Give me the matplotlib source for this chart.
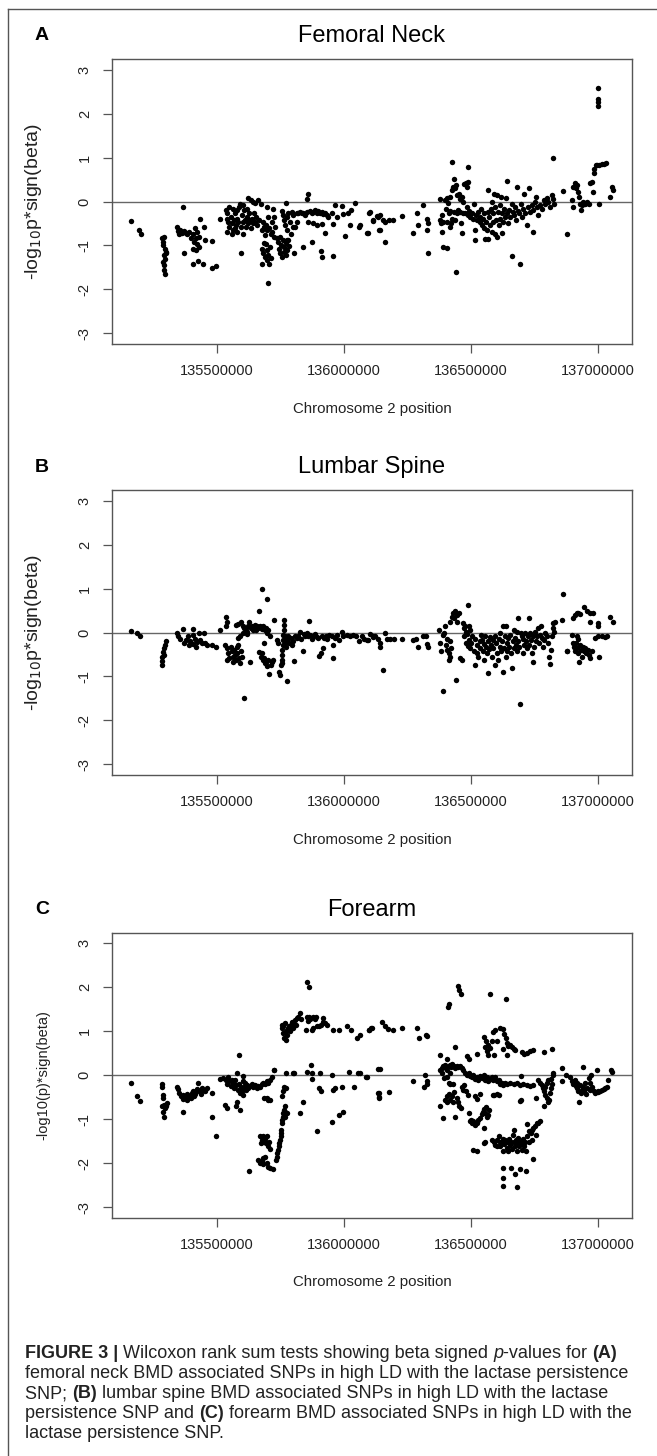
import numpy as np
import matplotlib
matplotlib.use("Agg")
import matplotlib.pyplot as plt
from matplotlib.font_manager import FontProperties
from matplotlib.lines import Line2D

plt.rcParams['font.family'] = ['Liberation Sans', 'DejaVu Sans']
plt.rcParams['axes.unicode_minus'] = False

# positions in Mb on chromosome 2, value = -log10(p)*sign(beta)
femoral_neck = [
    (135.163, -0.44), (135.193, -0.65), (135.202, -0.73),
    (135.286, -0.84), (135.290, -0.92), (135.294, -0.80), (135.289, -0.99), (135.297, -1.07),
    (135.301, -1.14), (135.293, -1.22), (135.298, -1.30), (135.289, -1.37), (135.291, -1.45),
    (135.294, -1.55), (135.295, -1.64), (135.301, -1.18),
    (135.366, -0.12), (135.343, -0.58), (135.347, -0.67), (135.356, -0.64), (135.362, -0.71),
    (135.371, -0.67), (135.379, -0.71), (135.384, -0.74), (135.392, -0.69), (135.351, -0.74),
    (135.373, -1.16), (135.400, -0.84), (135.408, -0.74), (135.412, -0.92), (135.419, -0.84),
    (135.424, -0.97), (135.429, -0.80), (135.415, -0.61), (135.424, -0.69), (135.405, -1.07),
    (135.419, -1.11), (135.430, -1.03), (135.434, -0.39), (135.450, -0.58), (135.454, -0.88),
    (135.480, -0.89), (135.406, -1.42), (135.428, -1.35), (135.448, -1.42), (135.480, -1.52),
    (135.497, -1.46), (135.513, -0.40),
    (135.537, -0.20), (135.542, -0.27), (135.539, -0.39), (135.546, -0.46), (135.539, -0.69),
    (135.550, -0.58), (135.555, -0.35), (135.559, -0.50), (135.563, -0.65), (135.568, -0.42),
    (135.572, -0.27), (135.576, -0.54), (135.579, -0.69), (135.581, -0.39), (135.585, -0.46),
    (135.589, -0.12), (135.592, -0.05), (135.594, -0.58), (135.598, -0.31), (135.602, -0.46),
    (135.605, -0.73), (135.608, -0.20), (135.611, -0.42), (135.615, -0.58), (135.618, -0.35),
    (135.622, 0.07), (135.624, -0.50), (135.628, -0.27), (135.631, -0.42), (135.634, -0.61),
    (135.638, -0.39), (135.642, -0.01), (135.644, -0.50), (135.648, -0.27), (135.651, -0.46),
    (135.655, -0.35), (135.660, -0.54), (135.664, 0.03), (135.668, -0.42), (135.673, -0.05),
    (135.677, -0.65), (135.550, -0.12), (135.566, -0.16), (135.579, -0.20), (135.559, -0.73),
    (135.572, -0.61), (135.618, -0.16), (135.605, -0.08), (135.634, 0.03), (135.651, -0.03),
    (135.594, -1.16),
    (135.681, -0.46), (135.688, -0.58), (135.694, -0.54), (135.699, -0.65), (135.707, -0.61),
    (135.712, -0.73), (135.719, -0.69), (135.726, -0.80), (135.730, -0.58), (135.736, -0.84),
    (135.743, -0.92), (135.749, -0.80), (135.753, -0.99), (135.760, -0.88), (135.765, -1.03),
    (135.771, -0.95), (135.778, -0.88), (135.697, -0.12), (135.703, -0.35), (135.723, -0.16),
    (135.727, -0.35), (135.716, -0.46), (135.690, -0.77),
    (135.677, -1.07), (135.681, -1.18), (135.686, -0.95), (135.690, -1.26), (135.697, -1.11),
    (135.699, -1.33), (135.703, -1.22), (135.707, -1.41), (135.710, -1.03), (135.712, -1.29),
    (135.679, -1.41), (135.694, -0.97), (135.700, -1.86),
    (135.744, -1.07), (135.749, -1.18), (135.757, -1.26), (135.765, -1.14), (135.773, -1.22),
    (135.778, -1.11), (135.804, -1.18), (135.786, -1.02),
    (135.756, -0.21), (135.762, -0.31), (135.765, -0.42), (135.769, -0.54), (135.773, -0.03),
    (135.775, -0.35), (135.782, -0.27), (135.788, -0.46), (135.795, -0.23), (135.802, -0.31),
    (135.808, -0.58), (135.815, -0.27), (135.821, -0.26), (135.828, -0.23), (135.834, -0.27),
    (135.841, -0.26), (135.847, -0.31), (135.854, -0.23), (135.861, -0.46), (135.867, -0.21),
    (135.874, -0.27), (135.880, -0.23), (135.887, -0.20), (135.893, -0.26), (135.900, -0.21),
    (135.907, -0.27), (135.913, -0.23), (135.920, -0.29), (135.926, -0.26), (135.933, -0.31),
    (135.939, -0.35), (135.778, -0.65), (135.791, -0.73), (135.802, -0.58), (135.815, -0.46),
    (135.782, -0.88), (135.861, 0.16), (135.857, 0.05), (135.874, -0.92), (135.838, -1.03),
    (135.880, -0.48), (135.896, -0.54), (135.913, -0.52), (135.926, -0.71), (135.909, -1.12),
    (135.913, -1.27), (135.956, -1.24), (135.956, -0.52),
    (135.966, -0.07), (135.955, -0.27), (135.972, -0.35), (135.992, -0.11), (135.998, -0.29),
    (136.018, -0.27), (136.027, -0.20), (136.045, -0.03), (136.005, -0.79), (136.025, -0.54),
    (136.058, -0.58), (136.064, -0.54), (136.093, -0.71), (136.101, -0.26), (136.116, -0.42),
    (136.136, -0.35), (136.139, -0.65),
    (136.094, -0.71), (136.104, -0.23), (136.113, -0.44), (136.130, -0.33), (136.141, -0.31),
    (136.141, -0.65), (136.154, -0.42), (136.163, -0.46), (136.179, -0.42), (136.192, -0.42),
    (136.164, -0.92), (136.230, -0.33), (136.273, -0.71), (136.287, -0.27), (136.292, -0.54),
    (136.312, -0.08), (136.327, -0.39), (136.330, -0.50), (136.327, -0.65), (136.330, -1.18),
    (136.379, 0.05), (136.383, -0.50), (136.386, -0.69), (136.392, -1.03), (136.408, -1.05),
    (136.442, -1.60),
    (136.424, 0.90), (136.487, 0.79), (136.434, 0.52), (136.429, 0.33), (136.436, 0.30),
    (136.442, 0.37), (136.425, 0.26), (136.418, 0.11), (136.408, 0.07), (136.398, 0.03),
    (136.411, -0.03), (136.445, 0.14), (136.455, 0.18), (136.464, 0.11), (136.473, 0.39),
    (136.481, 0.42), (136.487, 0.45), (136.483, 0.33), (136.458, 0.05), (136.471, -0.01),
    (136.403, -0.16), (136.412, -0.27), (136.418, -0.21), (136.425, -0.39), (136.432, -0.23),
    (136.438, -0.42), (136.408, -0.46), (136.416, -0.58), (136.421, -0.48), (136.445, -0.27),
    (136.451, -0.20), (136.458, -0.23), (136.461, -0.50), (136.464, -0.71), (136.471, -0.26),
    (136.477, -0.27), (136.484, -0.12), (136.487, -0.31), (136.492, -0.21), (136.497, -0.35),
    (136.504, -0.27), (136.510, -0.39), (136.514, -0.05), (136.517, -0.65), (136.517, -0.88),
    (136.521, -0.31), (136.526, -0.42), (136.530, -0.23), (136.534, -0.35), (136.537, -0.46),
    (136.541, -0.16), (136.543, -0.54), (136.547, -0.39), (136.550, -0.61), (136.552, -0.27),
    (136.556, -0.86), (136.560, -0.46), (136.563, -0.65), (136.566, 0.26), (136.568, -0.86),
    (136.569, -0.23), (136.573, -0.35), (136.576, -0.54), (136.578, -0.16), (136.582, -0.69),
    (136.585, -0.01), (136.586, -0.46), (136.589, -0.27), (136.592, 0.18), (136.593, -0.73),
    (136.595, -0.12), (136.598, -0.42), (136.602, 0.14), (136.602, -0.80), (136.605, -0.23),
    (136.609, -0.54), (136.613, -0.08), (136.615, -0.39), (136.618, 0.11), (136.622, -0.27),
    (136.624, -0.71), (136.628, -0.46), (136.631, -0.16), (136.635, -0.35), (136.639, 0.07),
    (136.641, -0.27), (136.644, 0.46), (136.648, -0.50), (136.652, -0.20), (136.655, -0.35),
    (136.661, -0.05), (136.661, -1.24), (136.665, -0.23), (136.670, -0.31), (136.674, -0.12),
    (136.677, -0.42), (136.683, 0.33), (136.687, -0.21), (136.691, -0.27), (136.694, -1.42),
    (136.696, -0.05), (136.700, -0.35), (136.707, -0.16), (136.709, 0.17), (136.714, -0.26),
    (136.720, -0.54), (136.724, -0.12), (136.730, 0.31), (136.733, -0.23), (136.740, -0.08),
    (136.745, -0.70), (136.746, -0.20), (136.753, -0.01), (136.757, 0.11), (136.759, -0.12),
    (136.766, -0.31), (136.772, -0.08), (136.779, -0.16), (136.786, 0.03), (136.792, -0.05),
    (136.799, 0.09), (136.805, -0.01), (136.812, -0.12), (136.818, 0.14), (136.822, 0.99),
    (136.825, 0.05), (136.827, -0.05), (136.861, 0.24), (136.877, -0.75),
    (136.379, -0.42), (136.386, -0.31), (136.392, -0.46),
    (136.897, 0.03), (136.901, -0.12), (136.903, 0.33), (136.910, 0.41), (136.914, 0.30),
    (136.919, 0.37), (136.923, 0.22), (136.927, 0.11), (136.930, -0.05), (136.932, -0.20),
    (136.937, -0.08), (136.943, -0.01), (136.950, -0.05), (136.956, -0.02), (136.963, -0.06),
    (136.969, 0.42), (136.978, 0.45), (136.980, 0.22), (136.983, 0.64), (136.985, 0.75),
    (136.992, 0.83), (136.998, 0.83), (137.006, 0.83), (137.015, 0.85), (137.024, 0.85),
    (137.032, 0.88), (137.006, -0.06), (137.048, 0.11), (137.055, 0.33), (137.058, 0.26),
    (137.002, 2.58), (137.002, 2.32), (137.002, 2.26), (137.002, 2.17),
]

lumbar_spine = [
    (135.163, 0.04), (135.188, 0.00), (135.198, -0.07),
    (135.301, -0.19), (135.298, -0.28), (135.294, -0.36), (135.290, -0.45), (135.286, -0.55),
    (135.284, -0.64), (135.285, -0.73), (135.293, -0.51),
    (135.343, 0.00), (135.349, -0.09), (135.356, -0.15), (135.366, 0.09), (135.372, -0.24),
    (135.379, -0.17), (135.389, -0.28), (135.395, -0.20), (135.406, 0.08), (135.408, -0.26),
    (135.415, -0.15), (135.419, -0.32), (135.424, -0.21), (135.432, 0.00), (135.434, -0.17),
    (135.441, -0.24), (135.450, -0.02), (135.454, -0.23), (135.461, -0.28), (135.480, -0.28),
    (135.497, -0.32), (135.406, -0.05), (135.386, -0.09),
    (135.513, 0.05), (135.537, 0.35), (135.539, 0.25), (135.535, 0.15),
    (135.533, -0.28), (135.539, -0.36), (135.546, -0.47), (135.550, -0.58), (135.555, -0.32),
    (135.559, -0.43), (135.563, -0.55), (135.568, -0.39), (135.572, -0.51), (135.576, -0.62),
    (135.579, -0.32), (135.581, -0.47), (135.585, -0.28), (135.589, -0.58), (135.592, -0.70),
    (135.596, -0.43), (135.598, -0.55), (135.542, -0.62), (135.566, -0.66), (135.583, -0.13),
    (135.608, -1.48), (135.631, -0.67),
    (135.576, 0.17), (135.585, 0.20), (135.594, 0.23), (135.602, 0.14), (135.608, 0.10),
    (135.615, 0.06), (135.621, 0.02), (135.624, 0.14), (135.628, 0.25), (135.634, 0.10),
    (135.638, 0.15), (135.642, 0.05), (135.647, 0.12), (135.651, 0.17), (135.655, 0.06),
    (135.660, 0.14), (135.664, 0.10), (135.670, 0.15), (135.677, 0.08), (135.684, 0.14),
    (135.690, 0.05), (135.694, 0.10), (135.699, -0.02), (135.703, 0.06), (135.710, -0.09),
    (135.605, -0.02), (135.618, -0.03), (135.592, -0.08),
    (135.668, 0.50), (135.677, 0.98), (135.699, 0.76),
    (135.668, -0.45), (135.673, -0.55), (135.677, -0.47), (135.681, -0.62), (135.686, -0.58),
    (135.690, -0.70), (135.694, -0.66), (135.699, -0.77), (135.703, -0.62), (135.707, -0.94),
    (135.712, -0.74), (135.716, -0.66), (135.723, -0.62), (135.688, -0.24), (135.727, 0.29),
    (135.746, -0.89), (135.749, -0.96), (135.753, -0.73), (135.756, -0.62), (135.757, -0.51),
    (135.758, -0.39), (135.760, -0.28), (135.761, -0.17), (135.762, -0.05), (135.764, 0.06),
    (135.764, 0.17), (135.765, 0.29), (135.767, -0.09), (135.770, -0.24), (135.773, -0.32),
    (135.775, -1.11), (135.756, -0.70),
    (135.736, -0.17), (135.743, -0.24), (135.775, -0.17), (135.782, -0.09), (135.786, -0.24),
    (135.791, -0.13), (135.795, -0.28), (135.802, -0.20), (135.808, -0.09), (135.805, -0.64),
    (135.815, -0.13), (135.821, -0.08), (135.828, 0.02), (135.830, -0.15), (135.838, -0.42),
    (135.843, -0.03), (135.847, -0.09), (135.854, 0.00), (135.861, -0.09), (135.865, 0.27),
    (135.867, -0.05), (135.874, -0.15), (135.880, -0.09), (135.887, -0.03), (135.893, -0.11),
    (135.900, -0.13), (135.904, -0.53), (135.909, -0.47), (135.913, -0.09), (135.917, -0.36),
    (135.922, -0.13), (135.930, -0.09), (135.935, -0.15), (135.943, -0.05), (135.952, -0.09),
    (135.956, -0.28), (135.956, -0.58), (135.966, -0.13), (135.972, -0.05), (135.982, -0.17),
    (135.992, 0.02), (135.998, -0.09), (136.011, -0.05), (136.025, -0.09), (136.038, -0.05),
    (136.048, -0.09), (136.059, -0.20), (136.070, -0.09), (136.090, -0.17), (136.103, -0.03),
    (136.116, -0.08), (136.136, -0.15),
    (136.078, -0.15), (136.094, -0.18), (136.115, -0.11), (136.124, -0.08), (136.141, -0.24),
    (136.141, -0.32), (136.154, -0.86), (136.163, 0.00), (136.170, -0.15), (136.183, -0.15),
    (136.196, -0.15), (136.230, -0.15), (136.272, -0.17), (136.283, -0.15), (136.292, -0.33),
    (136.312, -0.08), (136.322, -0.09), (136.327, -0.26), (136.333, -0.32), (136.376, 0.05),
    (136.379, -0.23), (136.383, -0.43), (136.390, -1.32), (136.442, -1.09),
    (136.390, -0.05), (136.396, 0.00), (136.400, 0.14), (136.403, -0.28), (136.408, -0.39),
    (136.412, -0.62), (136.416, -0.55), (136.418, 0.25), (136.421, -0.36), (136.425, 0.36),
    (136.429, 0.44), (136.434, 0.33), (136.438, 0.48), (136.445, 0.40), (136.447, 0.25),
    (136.455, 0.44), (136.458, -0.58), (136.464, -0.62), (136.471, 0.21), (136.473, 0.10),
    (136.477, 0.15), (136.481, 0.02), (136.484, -0.03), (136.487, 0.63), (136.491, 0.14),
    (136.495, 0.06), (136.412, -0.47), (136.405, -0.15), (136.418, -0.20),
    (136.473, -0.09), (136.481, -0.23), (136.487, -0.30), (136.492, -0.17), (136.497, -0.36),
    (136.502, -0.24), (136.505, -0.09), (136.512, -0.41), (136.517, -0.15), (136.517, -0.73),
    (136.524, -0.28), (136.526, -0.47), (136.530, -0.55), (136.534, -0.20), (136.537, -0.36),
    (136.539, -0.05), (136.543, -0.17), (136.547, -0.41), (136.550, -0.26), (136.552, -0.62),
    (136.556, -0.09), (136.560, -0.32), (136.563, -0.47), (136.566, -0.91), (136.569, -0.20),
    (136.573, -0.38), (136.576, -0.11), (136.578, -0.28), (136.582, -0.55), (136.586, -0.17),
    (136.589, -0.36), (136.593, -0.73), (136.595, -0.09), (136.599, -0.24), (136.602, -0.47),
    (136.605, -0.62), (136.609, -0.15), (136.613, -0.32), (136.615, -0.02), (136.618, -0.43),
    (136.622, -0.20), (136.626, 0.14), (136.628, -0.89), (136.631, -0.36), (136.635, -0.09),
    (136.637, 0.14), (136.639, -0.55), (136.641, -0.24), (136.644, -0.41), (136.648, -0.13),
    (136.652, -0.32), (136.655, -0.05), (136.657, -0.47), (136.661, -0.81), (136.665, -0.20),
    (136.668, 0.06), (136.670, -0.36), (136.674, -0.13), (136.677, -0.28), (136.681, 0.02),
    (136.683, -0.43), (136.687, 0.33), (136.687, -0.20), (136.691, -0.32), (136.694, -1.62),
    (136.696, -0.02), (136.700, -0.09), (136.704, -0.47), (136.707, -0.15), (136.709, -0.28),
    (136.714, -0.02), (136.718, -0.20), (136.720, -0.36), (136.724, -0.09), (136.727, -0.28),
    (136.730, 0.33), (136.733, -0.02), (136.735, -0.17), (136.740, -0.47), (136.745, -0.68),
    (136.746, -0.09), (136.749, -0.32), (136.753, 0.02), (136.757, -0.20), (136.759, -0.09),
    (136.766, 0.10), (136.770, -0.24), (136.772, -0.05), (136.776, 0.14), (136.779, -0.13),
    (136.783, -0.32), (136.786, -0.17), (136.792, -0.02), (136.799, -0.09), (136.805, -0.24),
    (136.809, -0.55), (136.812, -0.71), (136.815, -0.39), (136.818, -0.09), (136.822, 0.10),
    (136.825, 0.21), (136.827, 0.02), (136.831, 0.25),
    (136.858, 0.29), (136.861, 0.87), (136.877, -0.43), (136.897, -0.05), (136.903, 0.33),
    (136.910, 0.40), (136.917, 0.44), (136.923, 0.45), (136.930, 0.42), (136.945, 0.58),
    (136.956, 0.48), (136.967, 0.45), (136.969, 0.25), (136.980, 0.44), (136.999, 0.21),
    (137.002, 0.14), (137.048, 0.36), (137.058, 0.25), (136.990, -0.13), (137.002, -0.09),
    (137.015, -0.09), (137.028, -0.11), (137.037, -0.09),
    (136.901, -0.23), (136.906, -0.32), (136.910, -0.43), (136.914, -0.24), (136.919, -0.36),
    (136.923, -0.47), (136.927, -0.66), (136.930, -0.28), (136.932, -0.39), (136.937, -0.55),
    (136.941, -0.32), (136.946, -0.43), (136.950, -0.36), (136.954, -0.47), (136.959, -0.39),
    (136.963, -0.51), (136.969, -0.58), (136.976, -0.43), (137.006, -0.55), (136.878, -0.43),
    (136.917, -0.09), (136.923, -0.15),
]

forearm = [
    (135.162, -0.18), (135.188, -0.47), (135.198, -0.59),
    (135.284, -0.20), (135.285, -0.26), (135.289, -0.45), (135.290, -0.52), (135.293, -0.67),
    (135.297, -0.75), (135.288, -0.83), (135.293, -0.94), (135.301, -0.71), (135.303, -0.64),
    (135.286, -0.71),
    (135.343, -0.26), (135.346, -0.32), (135.353, -0.41), (135.359, -0.48), (135.366, -0.55),
    (135.369, -0.45), (135.375, -0.50), (135.382, -0.42), (135.384, -0.56), (135.392, -0.47),
    (135.397, -0.52), (135.402, -0.41), (135.408, -0.35), (135.411, -0.48), (135.415, -0.42),
    (135.419, -0.37), (135.424, -0.32), (135.428, -0.18), (135.432, -0.37), (135.437, -0.42),
    (135.441, -0.30), (135.448, -0.33), (135.454, -0.37), (135.461, -0.30), (135.366, -0.83),
    (135.480, -0.41), (135.480, -0.95), (135.497, -1.38),
    (135.513, -0.09), (135.526, -0.07), (135.537, -0.11), (135.542, -0.20), (135.546, -0.03),
    (135.550, -0.14), (135.555, -0.24), (135.559, -0.11), (135.563, -0.18), (135.568, -0.30),
    (135.572, -0.12), (135.576, -0.22), (135.581, 0.05), (135.585, -0.33), (135.589, -0.20),
    (135.592, -0.41), (135.594, -0.26), (135.598, -0.37), (135.602, -0.14), (135.605, -0.45),
    (135.608, -0.27), (135.611, -0.18), (135.615, -0.33), (135.621, -0.22), (135.624, -0.30),
    (135.631, -0.24), (135.638, -0.20), (135.644, -0.26), (135.651, -0.22), (135.657, -0.30),
    (135.664, -0.24), (135.670, -0.26), (135.677, -0.20), (135.684, -0.17), (135.690, -0.20),
    (135.697, -0.14), (135.703, -0.17), (135.710, -0.11), (135.716, -0.03), (135.725, 0.12),
    (135.589, 0.46), (135.602, -0.01), (135.534, -0.67), (135.539, -0.75), (135.576, -0.71),
    (135.592, -0.79), (135.579, -0.60), (135.686, -0.52), (135.703, -0.56),
    (135.628, -2.17),
    (135.670, -1.38), (135.677, -1.47), (135.681, -1.39), (135.686, -1.51), (135.690, -1.44),
    (135.694, -1.55), (135.697, -1.39), (135.703, -1.62), (135.707, -1.51), (135.673, -1.55),
    (135.710, -1.67),
    (135.664, -1.92), (135.670, -2.00), (135.677, -1.96), (135.684, -2.03), (135.690, -1.85),
    (135.697, -2.00), (135.703, -2.08), (135.710, -2.11), (135.720, -2.14), (135.681, -1.89),
    (135.733, -1.92), (135.736, -1.85), (135.738, -1.77), (135.743, -1.70), (135.745, -1.62),
    (135.746, -1.55), (135.749, -1.47), (135.752, -1.39), (135.753, -1.32), (135.754, -1.24),
    (135.756, -1.09), (135.758, -1.02), (135.760, -0.94), (135.762, -0.86), (135.765, -0.79),
    (135.767, -0.71), (135.770, -0.83), (135.757, -0.48), (135.760, -0.37), (135.765, -0.26),
    (135.773, -0.30), (135.769, -0.94), (135.775, -0.86),
    (135.697, -0.52), (135.710, -0.56), (135.727, 0.12), (135.773, 0.05), (135.802, 0.05),
    (135.828, -0.86), (135.838, -0.61),
    (135.756, 1.14), (135.758, 1.07), (135.762, 0.95), (135.765, 0.84), (135.773, 0.79),
    (135.769, 0.99), (135.775, 0.92), (135.778, 1.03), (135.782, 1.07), (135.786, 1.11),
    (135.788, 1.00), (135.792, 1.14), (135.795, 1.22), (135.799, 1.07), (135.802, 1.18),
    (135.808, 1.26), (135.812, 1.14), (135.815, 1.30), (135.821, 1.33), (135.828, 1.41),
    (135.830, 1.27), (135.852, 1.03), (135.857, 1.32), (135.861, 1.24), (135.865, 1.33),
    (135.867, 1.27), (135.874, 1.03), (135.878, 1.32), (135.880, 1.07), (135.887, 1.27),
    (135.891, 1.32), (135.896, 1.11), (135.904, 1.12), (135.909, 1.14), (135.917, 1.20),
    (135.920, 1.30), (135.926, 1.18), (135.935, 1.14), (135.959, 1.03), (135.982, 1.02),
    (136.014, 1.12), (136.027, 1.03), (136.051, 0.84), (136.101, 1.02), (136.111, 1.07),
    (135.857, 2.13), (135.862, 2.00), (135.762, 1.11), (135.769, 1.18),
    (135.804, 0.05), (135.857, 0.08), (135.870, 0.23), (135.874, 0.06), (135.874, -0.09),
    (135.907, 0.05), (135.904, -0.30), (135.909, -0.37), (135.952, 0.01), (135.959, -0.33),
    (135.966, -0.30), (135.992, -0.27), (136.020, 0.08), (136.042, -0.26), (136.055, 0.05),
    (136.087, -0.03), (136.136, 0.14), (136.136, -0.41), (136.139, -0.50), (135.893, -1.28),
    (135.952, -1.07), (135.982, -0.90), (135.998, -0.83),
    (136.065, 0.92), (136.098, 1.02), (136.107, 1.07), (136.150, 1.22), (136.164, 1.11),
    (136.173, 1.05), (136.192, 1.02), (136.229, 1.07), (136.288, 1.07), (136.294, 0.84),
    (136.325, 0.92), (136.327, 0.89), (136.409, 1.56), (136.413, 1.62), (136.451, 2.02),
    (136.455, 1.94), (136.462, 1.84), (136.576, 1.84), (136.639, 1.73),
    (136.065, 0.06), (136.091, -0.03), (136.141, 0.14), (136.137, -0.41), (136.137, -0.51),
    (136.178, -0.38), (136.272, -0.14), (136.321, 0.01), (136.314, -0.26), (136.327, -0.20),
    (136.327, -0.14),
    (136.552, 0.86), (136.560, 0.77), (136.569, 0.69), (136.576, 0.61), (136.556, 0.64),
    (136.563, 0.54), (136.569, 0.46), (136.582, 0.78), (136.589, 0.99), (136.595, 1.02),
    (136.602, 0.77), (136.615, 1.07), (136.626, 1.05), (136.631, 0.94), (136.637, 0.84),
    (136.641, 0.73), (136.648, 0.67), (136.655, 0.69), (136.661, 0.64), (136.668, 0.59),
    (136.674, 0.58), (136.628, 0.59), (136.644, 0.46), (136.700, 0.52), (136.709, 0.48),
    (136.720, 0.50), (136.733, 0.54), (136.746, 0.58), (136.788, 0.52), (136.818, 0.59),
    (136.438, 0.65), (136.524, 0.48), (136.592, 0.46), (136.484, 0.44), (136.491, 0.36),
    (136.379, 0.46), (136.408, 0.36),
    (136.380, 0.11), (136.386, 0.16), (136.392, 0.20), (136.398, 0.23), (136.403, 0.16),
    (136.408, 0.12), (136.412, 0.20), (136.416, 0.23), (136.421, 0.18), (136.425, 0.26),
    (136.432, 0.21), (136.438, 0.16), (136.445, 0.20), (136.451, 0.18), (136.458, 0.21),
    (136.464, 0.16), (136.471, 0.12), (136.477, 0.06), (136.484, 0.01), (136.491, 0.05),
    (136.497, -0.02), (136.504, -0.05), (136.510, 0.01), (136.517, -0.09), (136.524, -0.03),
    (136.530, -0.12), (136.537, -0.02), (136.543, -0.07), (136.550, 0.01), (136.556, -0.11),
    (136.563, -0.05), (136.569, -0.14), (136.576, -0.09), (136.582, -0.03), (136.589, -0.11),
    (136.595, -0.05), (136.602, -0.14), (136.609, -0.11), (136.615, -0.20), (136.622, -0.17),
    (136.628, -0.22), (136.635, -0.17), (136.641, -0.20), (136.655, -0.18), (136.668, -0.20),
    (136.681, -0.17), (136.694, -0.22), (136.698, -0.02), (136.707, -0.20), (136.720, -0.22),
    (136.733, -0.24), (136.746, -0.22), (136.766, -0.11), (136.772, -0.17), (136.779, -0.22),
    (136.783, -0.30), (136.788, -0.37), (136.792, -0.45), (136.799, -0.52), (136.805, -0.60),
    (136.809, -0.56), (136.812, -0.41), (136.815, -0.30), (136.818, -0.20), (136.815, -0.09),
    (136.822, 0.01), (136.825, 0.05), (136.805, -0.11), (136.799, -0.17), (136.792, -0.26),
    (136.788, -0.71), (136.757, -0.52), (136.696, -0.56), (136.602, -0.42), (136.589, -0.45),
    (136.412, -0.18), (136.418, -0.20), (136.429, -0.20), (136.395, -0.07), (136.386, 0.05),
    (136.416, 0.06), (136.405, -0.05),
    (136.379, -0.71), (136.392, -0.98), (136.398, -0.56), (136.405, -0.62), (136.408, -0.48),
    (136.412, -0.42), (136.418, -0.56), (136.425, -0.47), (136.429, -0.62), (136.434, -0.39),
    (136.438, -0.94), (136.445, -0.52), (136.451, -0.60), (136.455, -0.70), (136.461, -0.75),
    (136.464, -0.27), (136.471, -0.33), (136.473, -0.22), (136.481, -0.37), (136.487, -0.45),
    (136.491, -0.86), (136.495, -1.05), (136.500, -1.02), (136.504, -1.09), (136.510, -1.05),
    (136.517, -1.13), (136.524, -1.08), (136.530, -1.02), (136.534, -0.98), (136.517, -0.47),
    (136.526, -0.55), (136.534, -0.42), (136.543, -0.88), (136.547, -0.83), (136.552, -0.77),
    (136.556, -0.86), (136.560, -0.73), (136.563, -0.94), (136.569, -0.90), (136.552, -1.20),
    (136.573, -0.79), (136.592, -0.45), (136.609, -0.45), (136.694, -0.58),
    (136.510, -1.71), (136.524, -1.73), (136.552, -1.55), (136.556, -1.51), (136.585, -1.47),
    (136.592, -1.53), (136.595, -1.58), (136.602, -1.47), (136.609, -1.39), (136.613, -1.53),
    (136.615, -1.62), (136.622, -1.51), (136.626, -1.44), (136.631, -1.56), (136.635, -1.47),
    (136.641, -1.65), (136.644, -1.53), (136.648, -1.73), (136.652, -1.44), (136.655, -1.58),
    (136.657, -1.51), (136.661, -1.67), (136.665, -1.36), (136.668, -1.53), (136.670, -1.24),
    (136.674, -1.61), (136.677, -1.47), (136.681, -1.73), (136.683, -1.55), (136.687, -1.42),
    (136.691, -1.62), (136.694, -1.51), (136.700, -1.70), (136.704, -1.56), (136.707, -1.45),
    (136.711, -1.62), (136.714, -1.53), (136.718, -1.73), (136.720, -1.11), (136.722, -1.39),
    (136.727, -1.28), (136.730, -1.51), (136.735, -1.32), (136.740, -1.24), (136.745, -1.91),
    (136.746, -1.20), (136.753, -1.15), (136.759, -1.09), (136.766, -1.08), (136.772, -1.05),
    (136.757, -1.36), (136.740, -1.47), (136.602, -1.62), (136.628, -1.73),
    (136.626, -2.11), (136.626, -2.34), (136.626, -2.53), (136.657, -2.11), (136.674, -2.24),
    (136.681, -2.55), (136.694, -2.14), (136.718, -2.17),
    (136.858, 0.16), (136.858, -0.14), (136.875, 0.01), (136.890, -0.03), (136.897, -0.14),
    (136.903, -0.20), (136.910, -0.11), (136.914, -0.24), (136.917, -0.30), (136.919, -0.17),
    (136.923, -0.35), (136.927, -0.60), (136.930, -0.22), (136.932, -0.41), (136.937, -0.33),
    (136.941, 0.18), (136.943, -0.26), (136.946, -0.37), (136.950, -0.18), (136.954, -0.42),
    (136.956, -0.30), (136.963, -0.07), (136.967, -0.17), (136.969, -0.33), (136.972, 0.01),
    (136.976, -0.26), (136.983, -0.37), (136.990, -0.41), (136.996, 0.12), (136.999, -0.37),
    (137.002, -0.39), (137.009, -0.35), (137.015, -0.33), (137.022, -0.32), (137.028, -0.30),
    (137.035, -0.26), (137.041, -0.11), (137.050, 0.12), (137.055, 0.08),
]

panels = [
    ("A", "Femoral Neck", femoral_neck, r"-log$_{10}$p*sign(beta)"),
    ("B", "Lumbar Spine", lumbar_spine, r"-log$_{10}$p*sign(beta)"),
    ("C", "Forearm", forearm, "-log10(p)*sign(beta)"),
]
xticks = [135500000, 136000000, 136500000, 137000000]
yticks = [-3, -2, -1, 0, 1, 2, 3]

W, H = 657, 1456
fig = plt.figure(figsize=(W / 100, H / 100), dpi=100)

ax_left, ax_w, ax_h = 112, 520, 285
tops = [59, 490, 932.7]
title_y = [36, 467, 910]
xlab_y = [409, 840, 1282]
gray = '#555555'

for i, (letter, title, pts, ylab) in enumerate(panels):
    pos = np.array([p[0] for p in pts]) * 1e6
    val = np.array([p[1] for p in pts])
    ax = fig.add_axes([ax_left / W, 1 - (tops[i] + ax_h) / H, ax_w / W, ax_h / H])
    ax.axhline(0, color='#666666', lw=1.0, zorder=1)
    ax.plot(pos, val, 'o', color='black', ms=3.9, mew=0, zorder=2)
    ax.set_xlim(135088000, 137134000)
    ax.set_ylim(-3.24, 3.24)
    ax.set_xticks(xticks)
    ax.set_xticklabels([str(t) for t in xticks])
    ax.set_yticks(yticks)
    ax.set_yticklabels([str(t) for t in yticks], rotation=90, va='center')
    ax.tick_params(direction='out', length=6.5, width=0.9, color=gray,
                   labelsize=10.5, labelcolor='#222222', pad=8)
    for s in ax.spines.values():
        s.set_color(gray)
        s.set_linewidth(1.0)
    if letter == "C":
        ax.set_ylabel(ylab, fontsize=10.5, color='#222222')
        ax.yaxis.set_label_coords(-0.118, 0.5)
    else:
        ax.set_ylabel(ylab, fontsize=14, color='#222222')
        ax.yaxis.set_label_coords(-0.131, 0.5)
    cx = (ax_left + ax_w / 2) / W
    fig.text(cx, 1 - title_y[i] / H, title, fontsize=17, ha='center', va='center')
    fig.text(42 / W, 1 - title_y[i] / H, letter, fontsize=14, fontweight='bold',
             ha='center', va='center')
    fig.text(cx, 1 - xlab_y[i] / H, "Chromosome 2 position", fontsize=10.8,
             ha='center', va='center', color='#222222')

# outer frame (left and top edges)
fig.add_artist(Line2D([8 / W, 8 / W], [0, 1 - 9 / H], transform=fig.transFigure,
                      color=gray, lw=1.0))
fig.add_artist(Line2D([8 / W, 1], [1 - 9 / H, 1 - 9 / H], transform=fig.transFigure,
                      color=gray, lw=1.0))

# caption with mixed bold / italic runs
caption = [
    [("FIGURE 3 | ", "bold"), ("Wilcoxon rank sum tests showing beta signed ", "normal"),
     ("p", "italic"), ("-values for ", "normal"), ("(A)", "bold")],
    [("femoral neck BMD associated SNPs in high LD with the lactase persistence", "normal")],
    [("SNP; ", "normal"), ("(B)", "bold"),
     (" lumbar spine BMD associated SNPs in high LD with the lactase", "normal")],
    [("persistence SNP and ", "normal"), ("(C)", "bold"),
     (" forearm BMD associated SNPs in high LD with the", "normal")],
    [("lactase persistence SNP.", "normal")],
]
cap_y = [1353, 1374, 1394, 1414, 1434]
cap_size = 13.0
renderer = fig.canvas.get_renderer()


def props(style):
    fp = FontProperties(family='Liberation Sans', size=cap_size)
    if style == "bold":
        fp.set_weight('bold')
    if style == "italic":
        fp.set_style('italic')
    return fp


def run_width(s, fp):
    w1, _, _ = renderer.get_text_width_height_descent('|' + s + '|', fp, ismath=False)
    w2, _, _ = renderer.get_text_width_height_descent('||', fp, ismath=False)
    return w1 - w2


for line, yy in zip(caption, cap_y):
    x = 25
    for txt, style in line:
        fp = props(style)
        fig.text(x / W, 1 - yy / H, txt, fontproperties=fp, ha='left', va='center',
                 color='#222222')
        x += run_width(txt, fp)

fig.savefig("out.png", dpi=100)
